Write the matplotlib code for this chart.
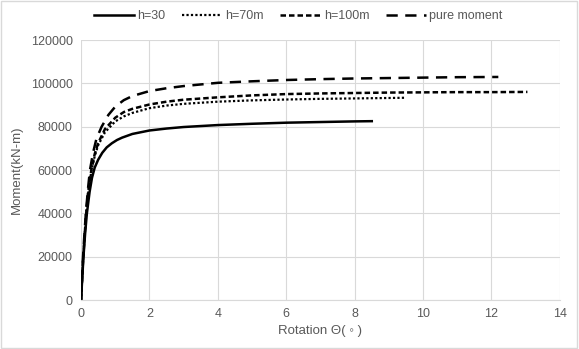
import matplotlib
matplotlib.use("Agg")
import matplotlib.pyplot as plt
from matplotlib.patches import Rectangle

plt.rcParams['font.family'] = ['Liberation Sans', 'DejaVu Sans']

# rotation (deg) and moment (kN-m)
x30 = [0, 0.03, 0.07, 0.12, 0.17, 0.25, 0.32, 0.4, 0.5, 0.62, 0.75, 0.9, 1.05, 1.2, 1.5, 2.0, 2.5, 3, 4,
       5, 6, 7, 8, 8.5]
m30 = [0, 9000, 20000, 31000, 40000, 50000, 56500, 61200, 64800, 68000, 70500, 72400, 73900, 75000,
       76700, 78300, 79200, 79900, 80800, 81400, 81900, 82200, 82500, 82600]

x70 = [0, 0.05, 0.1, 0.15, 0.2, 0.3, 0.4, 0.5, 0.7, 1.0, 1.25, 1.5, 2.0, 2.5, 3, 4, 5, 6, 7, 8, 9, 9.45]
m70 = [0, 16000, 29000, 40000, 48500, 59500, 66500, 71500, 77500, 82500, 84800, 86400, 88600, 89800,
       90600, 91600, 92200, 92600, 92900, 93100, 93300, 93400]

x100 = [0, 0.05, 0.1, 0.15, 0.2, 0.3, 0.4, 0.5, 0.7, 1.0, 1.25, 1.5, 2.0, 2.5, 3, 4, 5, 6, 7, 8,
        9, 10, 11, 12, 13.05]
m100 = [0, 16000, 29000, 40000, 49000, 60000, 67500, 72500, 79000, 84200, 86800, 88300, 90300, 91600,
        92500, 93600, 94500, 95100, 95400, 95600, 95800, 95900, 96000, 96000, 96100]

xpm = [0, 0.05, 0.1, 0.14, 0.2, 0.26, 0.35, 0.45, 0.6, 0.8, 1.0, 1.25, 1.5, 2.0, 2.5, 3, 4, 5, 6, 7, 8,
       9, 10, 11, 12.2]
mpm = [0, 18000, 31000, 40000, 51000, 60000, 68000, 74500, 80000, 85500, 89300, 92300, 94200, 96500,
       97800, 98800, 100300, 101000, 101600, 102000, 102300, 102500, 102700, 102900, 103000]

labels = ['h=30', 'h=70m', 'h=100m', 'pure moment']
xticks = [0, 2, 4, 6, 8, 10, 12, 14]
yticks = [0, 20000, 40000, 60000, 80000, 100000, 120000]

txt = '#595959'
fig = plt.figure(figsize=(5.79, 3.49), dpi=100)
ax = fig.add_axes([0.140, 0.140, 0.827, 0.745])

ax.plot(x30, m30, color='black', lw=1.8, ls='-', label=labels[0])
ax.plot(x70, m70, color='black', lw=1.6, ls=(0, (1, 1)), label=labels[1])
ax.plot(x100, m100, color='black', lw=1.8, ls=(0, (2.2, 1.2)), label=labels[2])
ax.plot(xpm, mpm, color='black', lw=1.8, ls=(0, (4.5, 3)), label=labels[3])

ax.set_xlim(0, 14)
ax.set_ylim(0, 120000)
ax.set_xticks(xticks)
ax.set_yticks(yticks)
ax.grid(True, color='#d9d9d9', lw=0.8)
ax.set_axisbelow(True)
for s in ['top', 'right', 'left']:
    ax.spines[s].set_visible(False)
ax.spines['bottom'].set_color('#d9d9d9')
ax.tick_params(length=0, labelsize=9, colors=txt, pad=6)
ax.set_xlabel('Rotation Θ( ◦ )', fontsize=9.5, color=txt, labelpad=3)
ax.set_ylabel('Moment(kN-m)', fontsize=9.5, color=txt, labelpad=6)

fig.legend(loc='center', bbox_to_anchor=(0.515, 0.953), ncol=4, frameon=False, fontsize=9,
           handlelength=3.2, columnspacing=1.3, handletextpad=0.3, labelcolor=txt)

fig.patches.append(Rectangle((0.002, 0.003), 0.995, 0.994, transform=fig.transFigure,
                             fill=False, edgecolor='#d9d9d9', lw=1))

fig.savefig('out.png', dpi=100)
